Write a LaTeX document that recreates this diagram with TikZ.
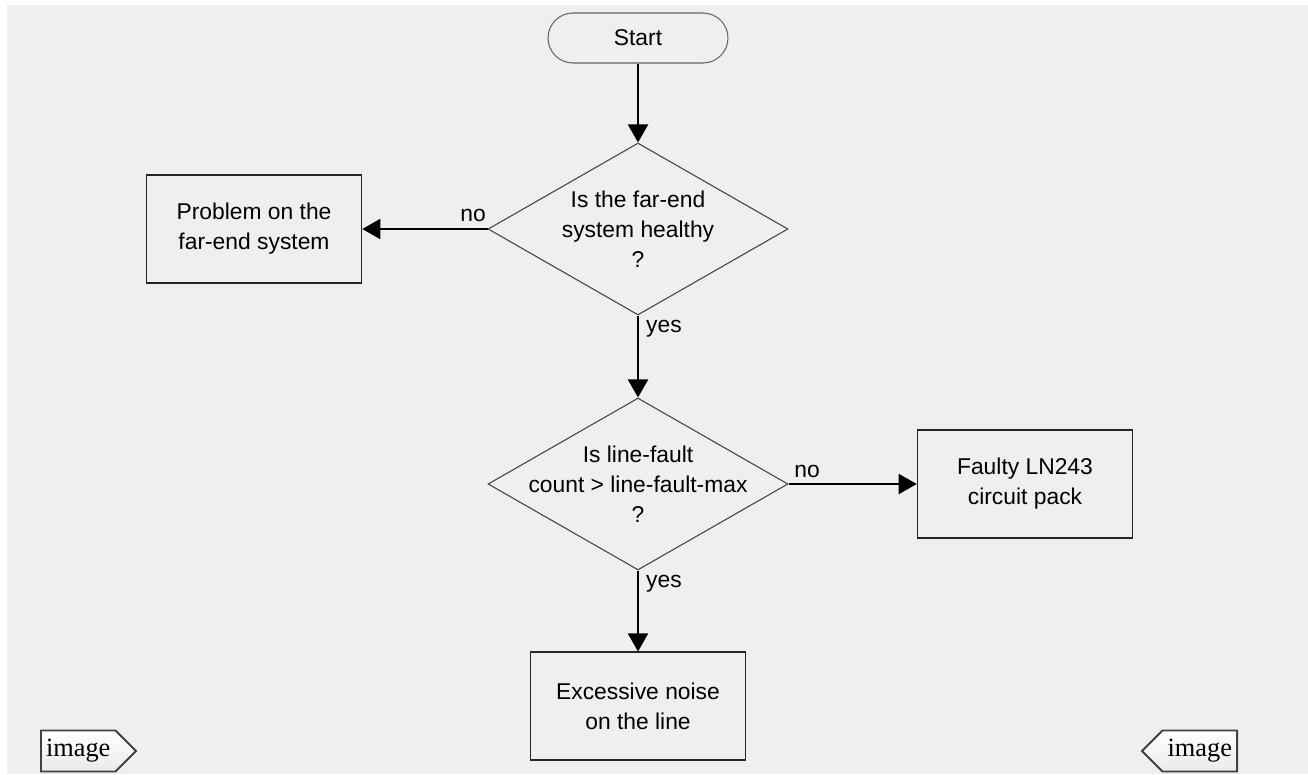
\documentclass[tikz,border=0pt]{standalone}
\usepackage{fontspec}
\setmainfont{Liberation Sans}
\newfontfamily\tagfont{Liberation Serif}
\usetikzlibrary{arrows.meta,shapes.geometric,shapes.symbols}
\definecolor{bggray}{HTML}{EFEFEF}

\begin{document}
\begin{tikzpicture}[x=0.02cm,y=-0.02cm,
    every node/.style={font=\fontsize{13}{17}\selectfont},
    terminal/.style={draw=black!60,line width=0.6pt,rounded corners=0.5cm,
      minimum width=3.6cm,minimum height=1cm},
    process/.style={draw=black!85,line width=0.9pt,minimum width=4.3cm,
      minimum height=2.15cm,align=center},
    decision/.style={diamond,draw=black!75,line width=0.6pt,minimum width=6cm,
      minimum height=3.44cm,inner sep=0pt},
    question/.style={align=center,inner sep=0pt},
    answer/.style={inner sep=0pt},
    pagetag/.style={signal,draw=black!75,line width=1.1pt,top color=white,
      bottom color=black!8,minimum width=1.9cm,minimum height=0.82cm,
      signal pointer angle=90,inner sep=1pt,
      font=\tagfont\fontsize{15}{15}\selectfont}]
      \useasboundingbox (0,0) rectangle (1308,774);
      \fill[white] (0,0) rectangle (1308,774);
      \fill[bggray] (7,5) rectangle (1308,774);
      % chart
      \node[terminal] (start) at (638,38) {Start};
      \node[decision] (q1) at (638,229) {};
      \node[question] (q1text) at (q1) {Is the far-end\\system healthy\\?};
      \node[process] (farend) at (254,229) {Problem on the\\far-end system};
      \node[decision] (q2) at (638,484) {};
      \node[question] (q2text) at (q2) {Is line-fault\\count > line-fault-max\\?};
      \node[process] (faulty) at (1025,484) {Faulty LN243\\circuit pack};
      \node[process] (noise) at (638,706) {Excessive noise\\on the line};
      \node[answer] (no1) at (473,215) {no};
      \node[answer] (yes1) at (664,329) {yes};
      \node[answer] (no2) at (807,471) {no};
      \node[answer] (yes2) at (664,584) {yes};
      % page tags
      \node[pagetag,signal to=east,anchor=west] (tagleft) at (40,751) {image};
      \node[pagetag,signal to=west,anchor=east] (tagright) at (1238,751) {image};
      \begin{scope}[-{Triangle[length=0.36cm,width=0.4cm]},line width=1.1pt]
        \draw (start.south) to (q1.north);
        \draw (q1.west) to (farend.east);
        \draw (q1.south) to (q2.north);
        \draw (q2.east) to (faulty.west);
        \draw (q2.south) to (noise.north);
      \end{scope}
    \end{tikzpicture}
\end{document}
